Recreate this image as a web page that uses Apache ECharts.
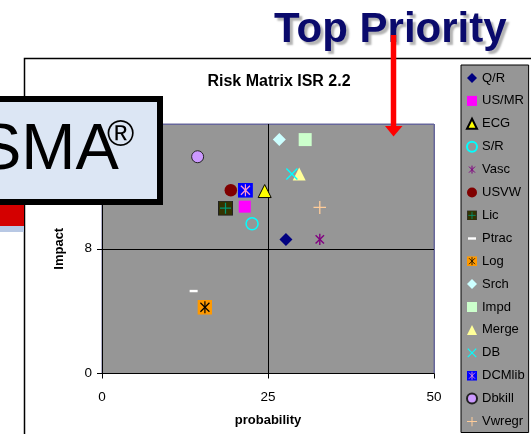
<!DOCTYPE html>
<html>
<head>
<meta charset="utf-8">
<script src="https://cdn.jsdelivr.net/npm/echarts@6/dist/echarts.min.js"></script>
<style>
  html, body { margin: 0; padding: 0; background: #fff; }
  #chart { width: 531px; height: 434px; }
</style>
</head>
<body>
<div id="chart"></div>
<script>
// risk items, one scatter series each
const names = ['Q/R', 'US/MR', 'ECG', 'S/R', 'Vasc', 'USVW', 'Lic', 'Ptrac', 'Log', 'Srch', 'Impd', 'Merge', 'DB', 'DCMlib', 'Dbkill', 'Vwregr']
const probability = [27.7, 21.5, 24.5, 22.6, 32.8, 19.4, 18.6, 13.8, 15.5, 26.7, 30.6, 29.7, 28.6, 21.6, 14.4, 32.8]
const impact = [8.6, 10.7, 11.7, 9.6, 8.6, 11.75, 10.6, 5.3, 4.25, 15.0, 15.0, 12.8, 12.8, 11.75, 13.9, 10.65]
const xTicks = [0, 25, 50]
const yTicks = [0, 8, 16]

const svg = (w, h, body) => 'image://data:image/svg+xml;utf8,' + encodeURIComponent(
    `<svg xmlns="http://www.w3.org/2000/svg" width="${w}" height="${h}" viewBox="0 0 ${w} ${h}">${body}</svg>`)
const star = (c, s, sw) => `<g stroke="${c}" stroke-width="${sw}"><line x1="${s * 0.2}" y1="${s * 0.2}" x2="${s * 0.8}" y2="${s * 0.8}"/><line x1="${s * 0.8}" y1="${s * 0.2}" x2="${s * 0.2}" y2="${s * 0.8}"/><line x1="${s / 2}" y1="${s * 0.1}" x2="${s / 2}" y2="${s * 0.9}"/></g>`

// marker looks, in the order of names
const marks = [
    { symbol: 'diamond', size: 13, itemStyle: { color: '#000080' } },
    { symbol: 'rect', size: 12, itemStyle: { color: '#ff00ff' } },
    { symbol: 'triangle', size: 13, itemStyle: { color: '#ffff00', borderColor: '#000', borderWidth: 1 } },
    { symbol: 'circle', size: 12, itemStyle: { color: 'rgba(0,0,0,0)', borderColor: '#00ffff', borderWidth: 1.5 } },
    { symbol: svg(14, 14, star('#800080', 14, 1.4)), size: 14, itemStyle: {} },
    { symbol: 'circle', size: 12.5, itemStyle: { color: '#800000' } },
    { symbol: svg(15, 15, '<rect x="0.5" y="0.5" width="14" height="14" fill="#333300" stroke="#222"/><g stroke="#009977" stroke-width="1.2"><line x1="2" y1="7.5" x2="13" y2="7.5"/><line x1="7.5" y1="2" x2="7.5" y2="13"/></g>'), size: 15, itemStyle: {} },
    { symbol: svg(10, 10, '<rect x="1" y="4" width="8" height="2.4" fill="#fff"/>'), size: 10, itemStyle: {} },
    { symbol: svg(15, 15, '<rect x="0" y="0" width="15" height="15" fill="#ff9900"/>' + star('#000', 15, 1.2)), size: 15, itemStyle: {} },
    { symbol: 'diamond', size: 13, itemStyle: { color: '#ccffff' } },
    { symbol: 'rect', size: 13, itemStyle: { color: '#ccffcc' } },
    { symbol: 'triangle', size: 13, itemStyle: { color: '#ffff99' } },
    { symbol: svg(13, 13, '<g stroke="#00ffff" stroke-width="1.4"><line x1="1" y1="1" x2="12" y2="12"/><line x1="12" y1="1" x2="1" y2="12"/></g>'), size: 13, itemStyle: {} },
    { symbol: svg(15, 15, '<rect x="0" y="0" width="15" height="15" fill="#0000ff"/>' + star('#ff99cc', 15, 1.2)), size: 15, itemStyle: {} },
    { symbol: 'circle', size: 12, itemStyle: { color: '#cc99ff', borderColor: '#222', borderWidth: 1 } },
    { symbol: svg(13, 13, '<g stroke="#ffcc99" stroke-width="1.3"><line x1="0" y1="6.5" x2="13" y2="6.5"/><line x1="6.5" y1="0" x2="6.5" y2="13"/></g>'), size: 13, itemStyle: {} },
]

const myChart = echarts.init(document.getElementById('chart'))
const font = 'Liberation Sans'
const option = {
    animation: false,
    textStyle: { fontFamily: font },
    title: {
        text: 'Risk Matrix ISR 2.2',
        left: 279,
        top: 74,
        textAlign: 'center',
        padding: 0,
        textStyle: { fontSize: 16, fontWeight: 'bold', color: '#000', fontFamily: font },
    },
    grid: {
        left: 102,
        right: 97,
        top: 124,
        bottom: 60.5,
        show: true,
        backgroundColor: '#969696',
        borderColor: '#66669a',
        borderWidth: 1,
    },
    legend: {
        orient: 'vertical',
        left: 461,
        top: 65,
        padding: [5, 4, 3, 5],
        itemWidth: 10,
        itemHeight: 10,
        itemGap: 6.9,
        backgroundColor: '#969696',
        borderColor: '#000',
        borderWidth: 1,
        textStyle: { fontSize: 13, lineHeight: 16, color: '#000', fontFamily: font },
        data: names,
    },
    xAxis: {
        type: 'value',
        min: xTicks[0],
        max: xTicks[xTicks.length - 1],
        interval: xTicks[1] - xTicks[0],
        name: 'probability',
        nameLocation: 'middle',
        nameGap: 40,
        nameTextStyle: { fontSize: 13, fontWeight: 'bold', color: '#000' },
        axisLine: { lineStyle: { color: '#000', width: 1 } },
        axisTick: { length: 5, lineStyle: { color: '#000' } },
        axisLabel: { fontSize: 13.5, color: '#000', margin: 17 },
        splitLine: { lineStyle: { color: ['#000', '#000', '#66669a'], width: 1 } },
    },
    yAxis: {
        type: 'value',
        min: yTicks[0],
        max: yTicks[yTicks.length - 1],
        interval: yTicks[1] - yTicks[0],
        name: 'Impact',
        nameLocation: 'middle',
        nameGap: 30,
        nameTextStyle: { fontSize: 13, fontWeight: 'bold', color: '#000' },
        axisLine: { show: true, lineStyle: { color: '#000', width: 1 } },
        axisTick: { show: true, length: 5, lineStyle: { color: '#000' } },
        axisLabel: { fontSize: 13.5, color: '#000', margin: 10 },
        splitLine: { lineStyle: { color: ['#000', '#000', '#66669a'], width: 1 } },
    },
    series: names.map((n, i) => ({
        name: n,
        type: 'scatter',
        symbol: marks[i].symbol,
        symbolSize: marks[i].size,
        itemStyle: Object.assign({ opacity: 1 }, marks[i].itemStyle),
        emphasis: { disabled: true },
        data: [[probability[i], impact[i]]],
    })),
    graphic: [
        // frame of the chart area
        { type: 'polyline', z: 1, shape: { points: [[24.5, 434], [24.5, 58.5], [531, 58.5]] }, style: { stroke: '#000', lineWidth: 1.5, fill: null } },
        // slide decoration on the left
        { type: 'rect', z: 100, shape: { x: 0, y: 205, width: 24, height: 21 }, style: { fill: '#d40000' } },
        { type: 'rect', z: 100, shape: { x: 0, y: 226, width: 24, height: 6 }, style: { fill: '#b8c8e4' } },
        { type: 'rect', z: 100, shape: { x: -9, y: 100, width: 171, height: 104 }, style: { fill: '#b0b0b0' } },
        { type: 'rect', z: 101, shape: { x: -10, y: 99, width: 170, height: 103 }, style: { fill: '#dce6f4', stroke: '#000', lineWidth: 6 } },
        { type: 'text', z: 102, style: { text: 'SMA', x: -22, y: 151.5, font: '65px "Liberation Sans"', fill: '#000', verticalAlign: 'middle' } },
        { type: 'text', z: 102, style: { text: '®', x: 107, y: 136, font: '37px "Liberation Sans"', fill: '#000', verticalAlign: 'middle' } },
        // headline + arrow
        {
            type: 'text', z: 102,
            style: {
                text: 'Top Priority', x: 274, y: 30, font: 'bold 42px "Liberation Sans"', fill: '#0a0a6c', verticalAlign: 'middle',
                textShadowColor: 'rgba(0,0,0,0.3)', textShadowBlur: 2, textShadowOffsetX: 3, textShadowOffsetY: 3,
            },
        },
        { type: 'line', z: 103, shape: { x1: 393.5, y1: 35, x2: 393.5, y2: 128 }, style: { stroke: '#ff0000', lineWidth: 5.5 } },
        { type: 'polygon', z: 103, shape: { points: [[385, 126], [402.5, 126], [393.5, 136.5]] }, style: { fill: '#ff0000' } },
    ],
}
option && myChart.setOption(option)
</script>
</body>
</html>
